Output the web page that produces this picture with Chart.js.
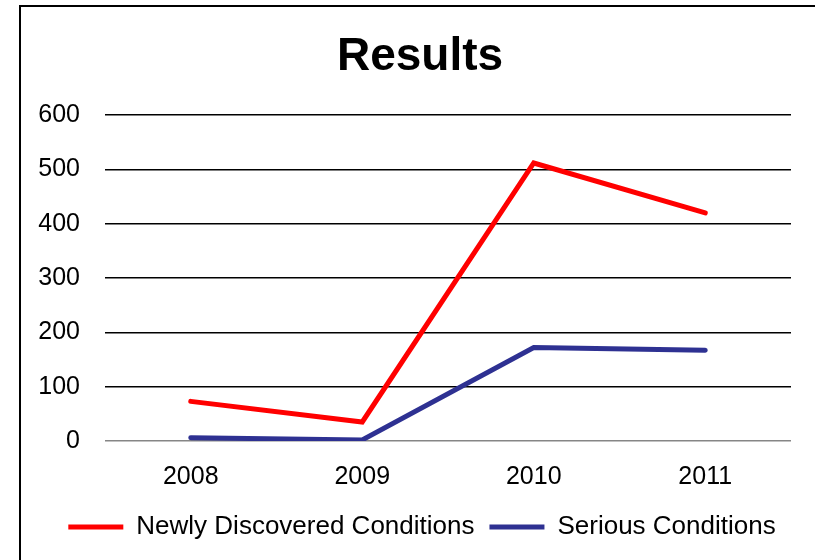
<!DOCTYPE html>
<html>
<head>
<meta charset="utf-8">
<script src="https://cdn.jsdelivr.net/npm/chart.js@4"></script>
<style>
  html, body { margin: 0; padding: 0; background: #fff; overflow: hidden; }
  #frame {
    position: absolute; left: 19px; top: 5px;
    width: 820px; height: 600px;
    border-left: 2px solid #000; border-top: 2px solid #000;
    box-sizing: border-box;
  }
  #wrap { position: absolute; left: 21px; top: 7px; width: 794px; height: 553px; }
</style>
</head>
<body>
<div id="frame"></div>
<div id="wrap"><canvas id="chart"></canvas></div>
<script>
const years = ['2008', '2009', '2010', '2011'];
const newlyDiscovered = [73, 35, 512, 420];
const seriousConditions = [6, 2, 172, 167];
const yTicks = [0, 100, 200, 300, 400, 500, 600];

const FONT = '"Liberation Sans", Arial, sans-serif';

// Title and legend are centred on the whole framed box rather than on the
// area left of the right margin, so nudge their boxes after layout.
const centreBlocks = {
  id: 'centreBlocks',
  afterLayout(chart) {
    const shift = (block, dx) => {
      if (!block) return;
      block.left += dx;
      block.right += dx;
    };
    shift(chart.titleBlock, 14);
    shift(chart.legend, 16);
  }
};

new Chart(document.getElementById('chart'), {
  type: 'line',
  data: {
    labels: years,
    datasets: [
      {
        label: 'Newly Discovered Conditions',
        data: newlyDiscovered,
        borderColor: '#ff0000',
        backgroundColor: '#ff0000',
        borderWidth: 5,
        pointRadius: 0,
        borderCapStyle: 'round',
        borderJoinStyle: 'miter',
        tension: 0
      },
      {
        label: 'Serious Conditions',
        data: seriousConditions,
        borderColor: '#2e3192',
        backgroundColor: '#2e3192',
        borderWidth: 5,
        pointRadius: 0,
        borderCapStyle: 'round',
        borderJoinStyle: 'miter',
        tension: 0
      }
    ]
  },
  plugins: [centreBlocks],
  options: {
    responsive: true,
    maintainAspectRatio: false,
    animation: false,
    layout: { padding: { left: 0, right: 24, top: 0, bottom: 10 } },
    plugins: {
      title: {
        display: true,
        text: 'Results',
        color: '#000',
        font: { family: FONT, size: 46, weight: 'bold' },
        padding: { top: 23, bottom: 30 }
      },
      legend: {
        position: 'bottom',
        labels: {
          color: '#000',
          font: { family: FONT, size: 26 },
          boxWidth: 55,
          boxHeight: 5,
          padding: 15,
          generateLabels(chart) {
            return Chart.defaults.plugins.legend.labels.generateLabels(chart).map(l => {
              l.lineWidth = 0;
              return l;
            });
          }
        }
      },
      tooltip: { enabled: false }
    },
    scales: {
      x: {
        offset: true,
        afterFit(scale) { scale.height = 58; },
        grid: { display: false, drawTicks: false },
        border: { display: false },
        ticks: { color: '#000', font: { family: FONT, size: 25 }, padding: 21 }
      },
      y: {
        min: 0,
        max: 600,
        afterBuildTicks(scale) {
          scale.ticks = yTicks.map(v => ({ value: v }));
        },
        afterFit(scale) { scale.width = 84; },
        grid: {
          drawTicks: false,
          lineWidth: 1.5,
          color: ctx => (ctx.tick && ctx.tick.value === 0 ? '#868686' : '#000')
        },
        border: { display: false },
        ticks: { color: '#000', font: { family: FONT, size: 25 }, padding: 25 }
      }
    }
  }
});
</script>
</body>
</html>
